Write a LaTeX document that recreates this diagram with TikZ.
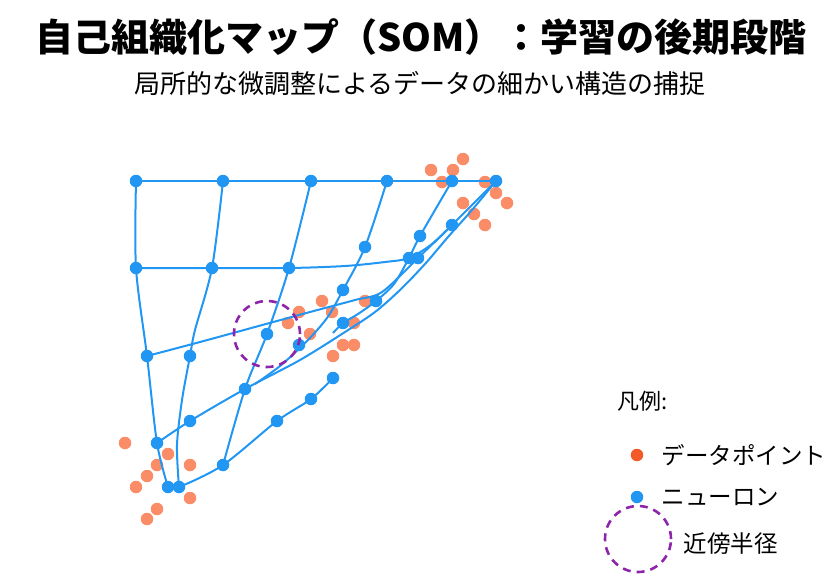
\documentclass[tikz,border=0pt]{standalone}
\usepackage{fontspec}
\setmainfont{Noto Sans CJK JP}
\definecolor{neuronC}{RGB}{33,150,243}
\definecolor{dataC}{RGB}{250,140,104}
\definecolor{dataLeg}{RGB}{244,90,40}
\definecolor{radC}{RGB}{142,36,170}
\tikzset{
  neuron/.style={circle,fill=neuronC,inner sep=0pt,minimum size=12.5pt},
  datapt/.style={circle,fill=dataC,inner sep=0pt,minimum size=12.5pt},
  gl/.style={draw=neuronC,line width=2pt},
  radius circle/.style={draw=radC,line width=2.6pt,dash pattern=on 8pt off 6pt},
  legtext/.style={font=\fontsize{23.5}{28}\selectfont,anchor=west},
}
\begin{document}
\begin{tikzpicture}[x=1pt,y=-1pt]
\useasboundingbox (0,0) rectangle (840,579);
% title
\node[font=\fontsize{38}{44}\selectfont\bfseries] (title) at (421,37) {自己組織化マップ（SOM）：学習の後期段階};
\node[font=\fontsize{26}{30}\selectfont] (sub) at (420,84) {局所的な微調整によるデータの細かい構造の捕捉};
% data points
\foreach \x/\y [count=\i] in {431/170,453/170,463/159,442/182,485/182,496/193,507/203,463/203,474/214,485/225,
  322/301,299/312,288/323,332/312,310/334,365/301,354/323,343/345,354/345,333/356,
  125/443,168/454,157/465,190/465,147/476,136/487,190/498,157/509,147/519}
  \node[datapt] (d\i) at (\x,\y) {};
% neurons
\foreach \r/\c/\x/\y in {0/0/136/181,0/1/223/181,0/2/311/181,0/3/387/181,0/4/452/181,0/5/496/181,
  1/0/136/268,1/1/212/268,1/2/289/268,1/3/365/247,1/4/420/236,1/5/452/225,
  2/0/147/356,2/1/190/356,2/2/267/334,2/3/343/290,2/4/409/258,2/5/418/258,
  3/0/157/443,3/1/190/421,3/2/245/389,3/3/299/345,3/4/343/323,3/5/376/301,
  4/0/168/487,4/1/179/487,4/2/223/465,4/3/277/421,4/4/311/399,4/5/333/378}
  \coordinate (n\r\c) at (\x,\y);
% grid lines
\draw[gl] (n00) -- (n05);
\draw[gl] plot[smooth] coordinates {(n00)(n10)(n20)(n30)(n40)};
\draw[gl] plot[smooth] coordinates {(n01)(n11)(195,330)(n21)(182,400)(177,445)(n41)};
\draw[gl] plot[smooth] coordinates {(n02)(n12)(n22)(n32)(n42)};
\draw[gl] plot[smooth] coordinates {(n03)(n13)(n23)(327,318)(306,342)(280,366)(255,384)};
\draw[gl] plot[smooth] coordinates {(n04)(n14)(n24)(394,284)(n35)(358,314)(n34)(333,333)};
\draw[gl] plot[smooth] coordinates {(n10)(n11)(n12)(345,266)(385,262)(n24)(432,244)(n15)};
\draw[gl] plot[smooth] coordinates {(n20)(200,342)(255,327)(310,312)(355,300)(382,292)(n25)(n15)(n05)};
\draw[gl] plot[smooth] coordinates {(n30)(n31)(n32)(300,360)(345,332)(375,312)(400,290)(425,264)(448,237)(472,210)(n05)};
\draw[gl] plot[smooth] coordinates {(n40)(n41)(n42)(n43)(n44)(n45)};
% neuron dots
\foreach \r in {0,...,4}{\foreach \c in {0,...,5}{\node[neuron] (m\r\c) at (n\r\c) {};}}
% neighbourhood radius
\node[radius circle,circle,minimum size=66pt,inner sep=0pt] (rad) at (267,334) {};
% legend
\node[font=\fontsize{22}{26}\selectfont,anchor=west] (legtitle) at (614,401) {凡例:};
\node[circle,fill=dataLeg,inner sep=0pt,minimum size=12.5pt] (legd) at (637,455) {};
\node[legtext] (legdt) at (658,455) {データポイント};
\node[neuron] (legn) at (637,497) {};
\node[legtext] (legnt) at (658,497) {ニューロン};
\node[radius circle,circle,minimum size=66pt,inner sep=0pt] (legr) at (638,539) {};
\node[legtext] (legrt) at (680,544) {近傍半径};
\end{tikzpicture}
\end{document}
